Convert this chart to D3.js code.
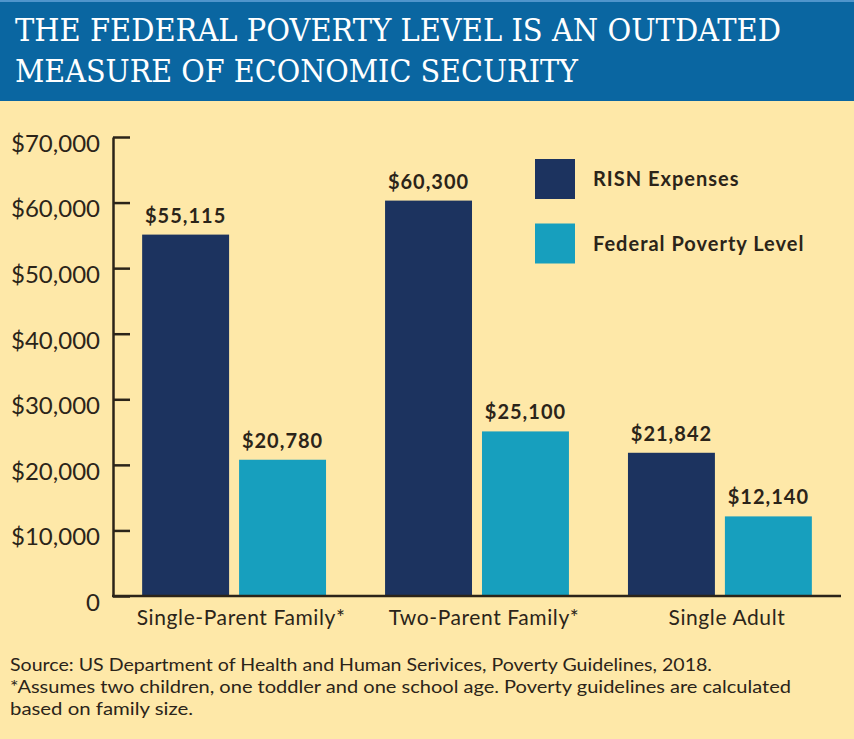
<!DOCTYPE html>
<html>
<head>
<meta charset="utf-8">
<script src="https://cdn.jsdelivr.net/npm/d3@7"></script>
<style>
  body { margin: 0; background: #fee8a8; }
  svg { display: block; }
</style>
</head>
<body>
<div id="chart"></div>
<script>
// chart data
var categories = ["Single-Parent Family*", "Two-Parent Family*", "Single Adult"];
var seriesNames = ["RISN Expenses", "Federal Poverty Level"];
var risnValues = [55115, 60300, 21842];
var fplValues = [20780, 25100, 12140];
var yTicks = [0, 10000, 20000, 30000, 40000, 50000, 60000, 70000];
var titleLines = ["THE FEDERAL POVERTY LEVEL IS AN OUTDATED", "MEASURE OF ECONOMIC SECURITY"];
var footLines = [
	"Source: US Department of Health and Human Serivices, Poverty Guidelines, 2018.",
	"*Assumes two children, one toddler and one school age. Poverty guidelines are calculated",
	"based on family size."
];

var width = 854;
var height = 739;
var colors = ["#1c335f", "#179fbe"];
var ink = "#2b2419";

var svg = d3.select("#chart")
	.append("svg")
	.attr("width", width)
	.attr("height", height);

// background + header band
svg.append("rect").attr("width", width).attr("height", height).attr("fill", "#fee8a8");
svg.append("rect").attr("width", width).attr("height", 101).attr("fill", "#0a66a1");
svg.append("rect").attr("width", width).attr("height", 2).attr("fill", "#4f95cc");

var titleLen = [766, 563];
svg.selectAll(".title")
	.data(titleLines)
	.enter()
	.append("text")
	.attr("class", "title")
	.attr("x", 15)
	.attr("y", function(d, i) { return 41 + i * 41; })
	.attr("textLength", function(d, i) { return titleLen[i]; })
	.attr("lengthAdjust", "spacingAndGlyphs")
	.attr("fill", "#ffffff")
	.style("font-family", "'DejaVu Serif'")
	.style("font-stretch", "condensed")
	.style("font-size", "31px")
	.text(function(d) { return d; });

// scales
var x0 = d3.scaleBand()
	.domain(categories)
	.range([113, 841])
	.paddingInner(0.243)
	.paddingOuter(0.12);

var x1 = d3.scaleBand()
	.domain(seriesNames)
	.range([0, x0.bandwidth()])
	.paddingInner(0.103);

var y = d3.scaleLinear()
	.domain([0, 70000])
	.range([596, 137]);

var rows = categories.map(function(c, i) {
	return { cat: c, values: [risnValues[i], fplValues[i]] };
});

var fmt = d3.format("$,");

// bars
var groups = svg.selectAll(".group")
	.data(rows)
	.enter()
	.append("g")
	.attr("class", "group")
	.attr("transform", function(d) { return "translate(" + x0(d.cat) + ",0)"; });

groups.selectAll("rect")
	.data(function(d) { return d.values.map(function(v, j) { return { s: seriesNames[j], v: v, j: j }; }); })
	.enter()
	.append("rect")
	.attr("x", function(d) { return x1(d.s); })
	.attr("y", function(d) { return y(d.v); })
	.attr("width", x1.bandwidth())
	.attr("height", function(d) { return y(0) - y(d.v); })
	.attr("fill", function(d) { return colors[d.j]; });

groups.selectAll(".val")
	.data(function(d) { return d.values.map(function(v, j) { return { s: seriesNames[j], v: v }; }); })
	.enter()
	.append("text")
	.attr("class", "val")
	.attr("x", function(d) { return x1(d.s) + x1.bandwidth() / 2; })
	.attr("y", function(d) { return y(d.v) - 12; })
	.attr("text-anchor", "middle")
	.attr("fill", ink)
	.style("font-family", "Lato")
	.style("font-weight", "bold")
	.style("font-size", "20px")
	.style("letter-spacing", "1px")
	.text(function(d) { return fmt(d.v); });

// y axis
var yAxis = d3.axisLeft(y)
	.tickValues(yTicks)
	.tickSizeInner(-17)
	.tickSizeOuter(0)
	.tickPadding(13)
	.tickFormat(function(d) { return d === 0 ? "0" : fmt(d); });

var ya = svg.append("g")
	.attr("transform", "translate(113,0)")
	.call(yAxis);
ya.selectAll("path, line").attr("stroke", ink).attr("stroke-width", 2.5);
ya.selectAll("text")
	.attr("dy", "0.6em")
	.attr("fill", ink)
	.style("font-family", "Lato")
	.style("font-weight", "400")
	.style("font-size", "24px");

// x axis
var xAxis = d3.axisBottom(x0).tickSize(0).tickPadding(0);
var xa = svg.append("g")
	.attr("transform", "translate(0," + y(0) + ")")
	.call(xAxis);
xa.select(".domain").attr("d", "M112,0H841").attr("stroke", ink).attr("stroke-width", 2.5);
xa.selectAll("text")
	.attr("y", 29)
	.attr("dy", 0)
	.attr("dx", 7)
	.attr("fill", ink)
	.style("font-family", "Lato")
	.style("font-size", "21px")
	.style("letter-spacing", "0.6px");

// legend
var legend = svg.selectAll(".legend")
	.data(seriesNames)
	.enter()
	.append("g")
	.attr("class", "legend")
	.attr("transform", function(d, i) { return "translate(535," + (159 + i * 64.5) + ")"; });
legend.append("rect")
	.attr("width", 40)
	.attr("height", 40)
	.attr("fill", function(d, i) { return colors[i]; });
legend.append("text")
	.attr("x", 58)
	.attr("y", 27)
	.attr("fill", ink)
	.style("font-family", "Lato")
	.style("font-weight", "bold")
	.style("font-size", "20px")
	.style("letter-spacing", "1px")
	.text(function(d) { return d; });

// footer
var footLen = [702, 781, 183];
svg.selectAll(".foot")
	.data(footLines)
	.enter()
	.append("text")
	.attr("class", "foot")
	.attr("x", 10)
	.attr("y", function(d, i) { return 671 + i * 22; })
	.attr("textLength", function(d, i) { return footLen[i]; })
	.attr("lengthAdjust", "spacingAndGlyphs")
	.attr("fill", ink)
	.style("font-family", "Lato")
	.style("font-size", "18px")
	.text(function(d) { return d; });
</script>
</body>
</html>
